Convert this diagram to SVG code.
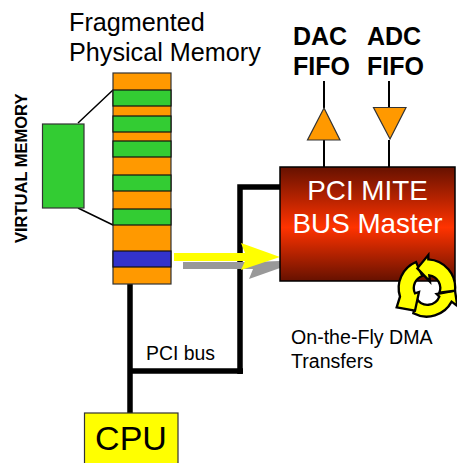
<svg xmlns="http://www.w3.org/2000/svg" width="457" height="463" viewBox="0 0 457 463">
<style>
text{font-family:"Liberation Sans",Arial,sans-serif;fill:#000}
.b{font-weight:bold}
.or{fill:#ff9900;stroke:#333;stroke-width:1.2}
.gr{fill:#33cc33;stroke:#111;stroke-width:1.2}
.bus{fill:none;stroke:#000;stroke-width:5.5}
.thin{fill:none;stroke:#000;stroke-width:1.5}
.rec{fill:#ffff00;stroke:#000;stroke-width:7;stroke-linejoin:miter}
</style>
<defs>
<linearGradient id="red" x1="0" y1="0" x2="0" y2="1">
<stop offset="0" stop-color="#661100"/>
<stop offset="0.53" stop-color="#ff3300"/>
<stop offset="1" stop-color="#661100"/>
</linearGradient>
</defs>
<rect width="457" height="463" fill="#fff"/>
<g id="connectors">
<path class="bus" d="M130 284V413M130 371H243M240 374V187H280"/>
<path class="thin" d="M78 123L113 90M78 208L113 225"/>
<path d="M324 81V108M324 140V167M389 81V107M389 140V167" fill="none" stroke="#000" stroke-width="2"/>
</g>
<g id="memory-labels">
<text x="69" y="31" font-size="25.200">Fragmented</text>
<text x="69" y="60.500" font-size="25.200">Physical Memory</text>
</g>
<g id="physical-memory">
<rect class="or" x="113" y="73" width="58" height="211"/>
<rect class="gr" x="113" y="90" width="58" height="16"/>
<rect class="gr" x="113" y="116" width="58" height="16"/>
<rect class="gr" x="113" y="141" width="58" height="16"/>
<rect class="gr" x="113" y="175" width="58" height="16"/>
<rect class="gr" x="113" y="209" width="58" height="16"/>
<rect x="113" y="251" width="58" height="16" fill="#3333cc" stroke="#111" stroke-width="1.2"/>
</g>
<g id="virtual-memory">
<rect x="42.500" y="124" width="41.500" height="84" fill="#33cc33" stroke="#333" stroke-width="1.2"/>
<text class="b" font-size="16.500" transform="translate(26.500 243) rotate(-90)">VIRTUAL MEMORY</text>
</g>
<g id="dma-arrow">
<path d="M183 262H252L280 261V268L249 279L253 269H183Z" fill="#999"/>
<path d="M174 253H245L241 243L280 257L241 270L245 261H174Z" fill="#ffff00"/>
</g>
<g id="pci-mite">
<rect x="280" y="167" width="175" height="114" fill="url(#red)" stroke="#000" stroke-width="1.5"/>
<text x="367.500" y="200" font-size="27.800" text-anchor="middle" style="fill:#fff">PCI MITE</text>
<text x="367.500" y="233" font-size="27.800" text-anchor="middle" style="fill:#fff">BUS Master</text>
</g>
<g id="dac-fifo">
<text class="b" x="293" y="45" font-size="25">DAC</text>
<text class="b" x="293" y="75" font-size="25">FIFO</text>
<path class="or" d="M324 108L340 140H307.500Z" stroke-width="1.500"/>
</g>
<g id="adc-fifo">
<text class="b" x="367" y="45" font-size="25">ADC</text>
<text class="b" x="367" y="75" font-size="25">FIFO</text>
<path class="or" d="M373.500 107.500H406L390 139Z"/>
</g>
<g id="recycle" transform="translate(380 250) scale(0.3333)">
<path class="rec" d="M100 190A85 85 0 0 0 215 155L232 168L225 122L170 132L178 140A38 38 0 0 1 110 146Z"/>
<path class="rec" d="M108 36A85 85 0 0 0 60 140L50 172L105 182L117 126L105 130A38 38 0 0 1 127 78Z"/>
<path class="rec" d="M225 122A85 85 0 0 0 145 28L145 15L112 55L150 95L148 76A38 38 0 0 1 178 128Z"/>
</g>
<g id="dma-label">
<text x="291" y="344" font-size="19.600">On-the-Fly DMA</text>
<text x="291" y="368" font-size="19.600">Transfers</text>
</g>
<g id="pci-bus-label">
<text x="146" y="360" font-size="19.400">PCI bus</text>
</g>
<g id="cpu">
<rect x="84.500" y="413" width="93.500" height="52" fill="#ffff00" stroke="#333" stroke-width="1.2"/>
<text x="131" y="450" font-size="34" text-anchor="middle">CPU</text>
</g>
</svg>
